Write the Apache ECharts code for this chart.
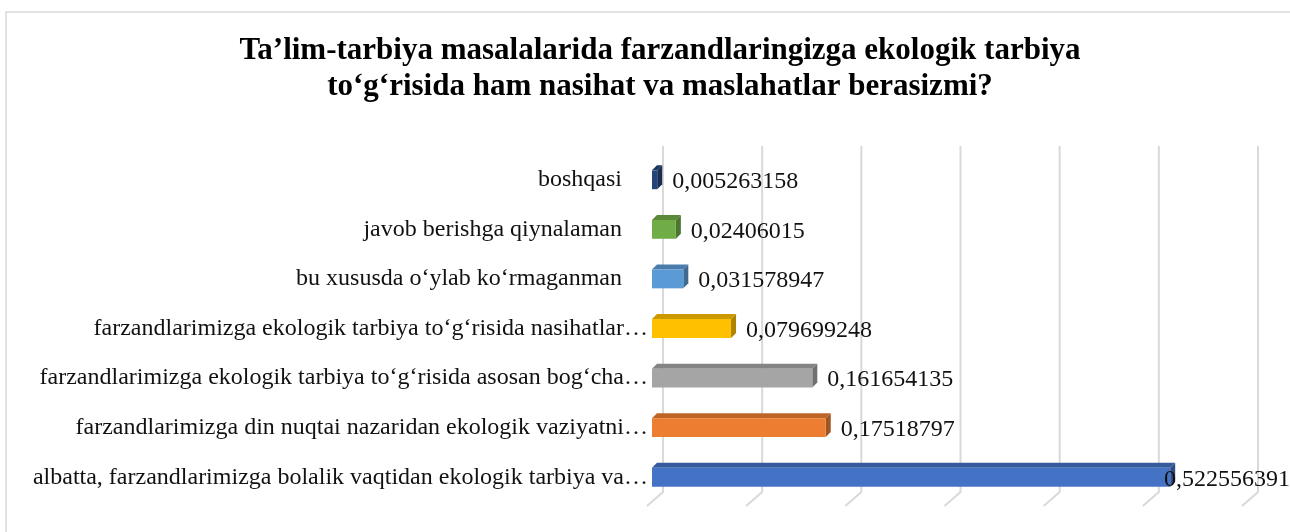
<!DOCTYPE html>
<html>
<head>
<meta charset="utf-8">
<script src="https://cdn.jsdelivr.net/npm/echarts@6/dist/echarts.min.js"></script>
<style>
  html, body { margin: 0; padding: 0; background: #fff; }
  #chart { width: 1290px; height: 532px; }
</style>
</head>
<body>
<div id="chart"></div>
<script>
// categories from bottom to top, as the bars are stacked in the picture
const categories = [
  "albatta, farzandlarimizga bolalik vaqtidan ekologik tarbiya va…",
  "farzandlarimizga din nuqtai nazaridan ekologik vaziyatni…",
  "farzandlarimizga ekologik tarbiya to‘g‘risida asosan bog‘cha…",
  "farzandlarimizga ekologik tarbiya to‘g‘risida nasihatlar…",
  "bu xususda o‘ylab ko‘rmaganman",
  "javob berishga qiynalaman",
  "boshqasi"
];
const values = [0.522556391, 0.17518797, 0.161654135, 0.079699248, 0.031578947, 0.02406015, 0.005263158];
const barColors = ["#4472C4", "#ED7D31", "#A5A5A5", "#FFC000", "#5B9BD5", "#70AD47", "#264478"];
const ticks = [0, 0.1, 0.2, 0.3, 0.4, 0.5, 0.6];
const titleText = "Ta’lim-tarbiya masalalarida farzandlaringizga ekologik tarbiya\nto‘g‘risida ham nasihat va maslahatlar berasizmi?";

const serif = "'Liberation Serif', 'Times New Roman', serif";

function shade(hex, k) {
  const n = parseInt(hex.slice(1), 16);
  const r = Math.round(((n >> 16) & 255) * k);
  const g = Math.round(((n >> 8) & 255) * k);
  const b = Math.round((n & 255) * k);
  return "rgb(" + r + "," + g + "," + b + ")";
}

function fmt(v) {
  return String(v).replace(".", ",");
}

// back wall grid lines + floor diagonals
function renderGrid(params, api) {
  const cs = params.coordSys;
  const x = api.coord([api.value(0), 0])[0] + 11;
  return {
    type: "polyline",
    shape: { points: [[x, cs.y - 9], [x, cs.y + cs.height - 10], [x - 16, cs.y + cs.height + 4]] },
    style: { stroke: "#d9d9d9", lineWidth: 2, fill: null },
    silent: true
  };
}

// 3d-looking bar: front face, top face, right side, value text
function renderBar(params, api) {
  const v = api.value(0);
  const idx = api.value(1);
  const start = api.coord([0, idx]);
  const end = api.coord([v, idx]);
  const h = api.size([0, 1])[1] * 0.38;
  const dx = 5, dy = 5;
  const x0 = start[0], x1 = end[0], yc = start[1];
  const top = yc - h / 2, bot = yc + h / 2;
  const color = barColors[idx];
  const labelX = Math.min(x1 + dx + 10, api.getWidth() - 126);
  return {
    type: "group",
    children: [
      { type: "polygon", shape: { points: [[x0, top], [x0 + dx, top - dy], [x1 + dx, top - dy], [x1, top]] }, style: { fill: shade(color, 0.8) } },
      { type: "polygon", shape: { points: [[x1, top], [x1 + dx, top - dy], [x1 + dx, bot - dy], [x1, bot]] }, style: { fill: shade(color, 0.68) } },
      { type: "rect", shape: { x: x0, y: top, width: x1 - x0, height: h }, style: { fill: color } },
      { type: "text", style: { text: fmt(v), x: labelX, y: yc + 2, verticalAlign: "middle", fontSize: 24, fontFamily: serif, fill: "#111" } }
    ]
  };
}

const chart = echarts.init(document.getElementById("chart"));
chart.setOption({
  backgroundColor: "#fff",
  animation: false,
  title: {
    text: titleText,
    left: 655,
    textAlign: "center",
    top: 28,
    textStyle: { fontFamily: serif, fontWeight: "bold", fontSize: 31, lineHeight: 36, color: "#000" }
  },
  graphic: [
    { type: "rect", shape: { x: 6, y: 12, width: 1400, height: 600 }, style: { fill: null, stroke: "#d9d9d9", lineWidth: 1.5 }, silent: true, z: -10 }
  ],
  grid: { left: 652, right: 43, top: 155, bottom: 30 },
  xAxis: {
    type: "value",
    min: 0,
    max: 0.6,
    interval: 0.1,
    axisLabel: { show: false },
    axisLine: { show: false },
    axisTick: { show: false },
    splitLine: { show: false }
  },
  yAxis: {
    type: "category",
    data: categories,
    axisLine: { show: false },
    axisTick: { show: false },
    axisLabel: {
      margin: 4,
      formatter: (v) => (v.endsWith("…") ? "{t|" + v + "}" : "{s|" + v + "}"),
      rich: {
        t: { fontSize: 24, fontFamily: serif, color: "#111" },
        s: { fontSize: 24, fontFamily: serif, color: "#111", padding: [0, 26, 0, 0] }
      }
    }
  },
  series: [
    {
      type: "custom",
      renderItem: renderGrid,
      data: ticks.map((t) => [t, 0]),
      encode: { x: 0, y: 1 },
      z: 1
    },
    {
      type: "custom",
      renderItem: renderBar,
      data: values.map((v, i) => [v, i]),
      encode: { x: 0, y: 1 },
      z: 2
    }
  ]
});
</script>
</body>
</html>
